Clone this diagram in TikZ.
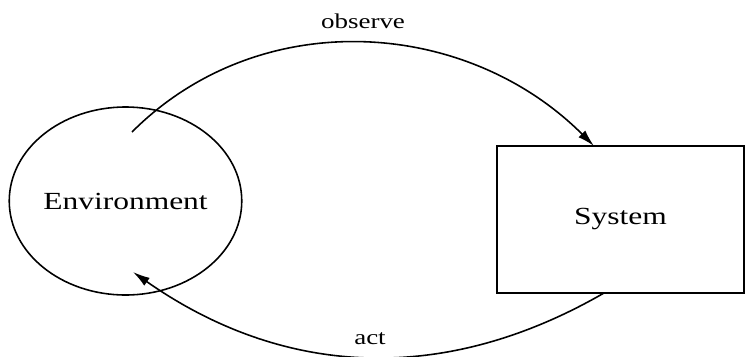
\documentclass[tikz,border=0pt]{standalone}
\usepackage{fontspec}
\setmainfont{Liberation Serif}
\usetikzlibrary{arrows.meta, shapes.geometric, positioning}

\begin{document}
\begin{tikzpicture}[
  thing/.style={draw, line width=0.9pt, inner sep=0pt, outer sep=0pt,
    font=\fontsize{14}{17}\selectfont},
  flow/.style={line width=0.9pt, -{Latex[length=3.4mm,width=1.9mm]}},
  flowlabel/.style={inner sep=3pt, font=\fontsize{12}{14}\selectfont}
]
\useasboundingbox (0,0) rectangle (14.9,7.12);
%blocks
\node[thing, ellipse, minimum width=4.58cm, minimum height=3.76cm] (env) at (2.51,3.10) {\scalebox{1.28}[1]{Environment}};
\node[thing, rectangle, minimum width=4.94cm, minimum height=2.94cm] (sys) at (12.41,2.73) {\scalebox{1.28}[1]{System}};

\coordinate (envtop) at ([shift={(0.13,1.38)}]env.center);
\coordinate (envbot) at ([shift={(0.15,-1.42)}]env.center);

%loop
\draw[flow] (envtop) to[out=45, in=135] node[flowlabel, midway, above=4.7pt] (obs) {\scalebox{1.28}[1]{observe}} ([xshift=-0.53cm]sys.north);
\draw[flow] ([xshift=-0.33cm]sys.south) to[out=210, in=-35] node[flowlabel, pos=0.49, above=3.7pt] (act) {\scalebox{1.28}[1]{act}} (envbot);
\end{tikzpicture}
\end{document}
